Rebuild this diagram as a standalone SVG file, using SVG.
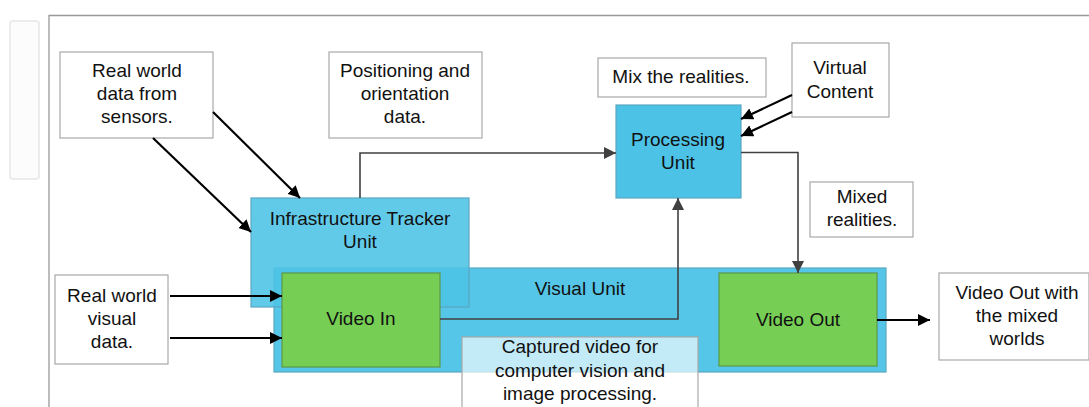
<svg xmlns="http://www.w3.org/2000/svg" width="1089" height="407" viewBox="0 0 1089 407">
<defs>
<style>
text{font-family:"Liberation Sans",Arial,sans-serif;font-size:19px;fill:#111;text-anchor:middle}
.note{fill:#fff;stroke:#a8a8a8;stroke-width:1.2}
.blue{fill:#4cc3e6;fill-opacity:0.95;stroke:#5aa7c2;stroke-width:1.2}
.green{fill:#77ce55;stroke:#5c9a47;stroke-width:1.2}
.blk{fill:none;stroke:#000;stroke-width:2.2}
.gry{fill:none;stroke:#404040;stroke-width:1.6}
</style>
<marker id="ab" viewBox="0 0 10 10" refX="10" refY="5" markerWidth="12" markerHeight="12" markerUnits="userSpaceOnUse" orient="auto"><path d="M0,0 L10,5 L0,10 z" fill="#000"/></marker>
<marker id="ag" viewBox="0 0 10 10" refX="10" refY="5" markerWidth="12" markerHeight="12" markerUnits="userSpaceOnUse" orient="auto"><path d="M0,0 L10,5 L0,10 z" fill="#404040"/></marker>
</defs>
<rect x="0" y="0" width="1089" height="407" fill="#fff"/>
<rect x="10" y="21" width="29" height="158" rx="3" fill="#fcfcfc" stroke="#ececec" stroke-width="2"/>
<path d="M49,407 V15.5 H1089" fill="none" stroke="#999" stroke-width="1.3"/>

<g id="visual-unit"><rect class="blue" x="274" y="268" width="612" height="104"/><text x="580" y="295">Visual Unit</text></g>
<g id="infrastructure-tracker"><rect class="blue" x="251" y="198" width="218" height="109" style="fill-opacity:0.88"/><text x="360" y="225">Infrastructure Tracker</text><text x="360" y="248">Unit</text></g>
<g id="video-in"><rect class="green" x="282" y="273" width="158" height="94"/><text x="361" y="325">Video In</text></g>
<g id="video-out"><rect class="green" x="719" y="273" width="158" height="93"/><text x="798" y="326">Video Out</text></g>
<g id="processing-unit"><rect class="blue" x="616" y="105" width="125" height="93" style="fill-opacity:1"/><text x="678" y="146">Processing</text><text x="678" y="169">Unit</text></g>

<g id="sensors"><rect class="note" x="60" y="52" width="153" height="86"/><text x="137" y="77">Real world</text><text x="137" y="100">data from</text><text x="137" y="123">sensors.</text></g>
<g id="positioning"><rect class="note" x="329" y="52" width="153" height="86"/><text x="405" y="77">Positioning and</text><text x="405" y="100">orientation</text><text x="405" y="123">data.</text></g>
<g id="mix-note"><rect class="note" x="598" y="58" width="168" height="39"/><text x="681" y="83">Mix the realities.</text></g>
<g id="virtual-content"><rect class="note" x="792" y="43" width="97" height="74"/><text x="840" y="74">Virtual</text><text x="840" y="98">Content</text></g>
<g id="mixed-note"><rect class="note" x="810" y="182" width="103" height="55"/><text x="862" y="203">Mixed</text><text x="862" y="226">realities.</text></g>
<g id="visual-data"><rect class="note" x="55" y="275" width="113" height="89"/><text x="112" y="302">Real world</text><text x="112" y="325">visual</text><text x="112" y="348">data.</text></g>
<g id="captured-note"><rect class="note" x="462" y="337" width="236" height="75" style="fill-opacity:0.65"/><text x="580" y="353">Captured video for</text><text x="580" y="377">computer vision and</text><text x="580" y="400">image processing.</text></g>
<g id="video-out-note"><rect class="note" x="939" y="273" width="150" height="87"/><text x="1017" y="299">Video Out with</text><text x="1017" y="322">the mixed</text><text x="1017" y="345">worlds</text></g>

<g id="connectors">
<path class="blk" d="M213,112 L300,198" marker-end="url(#ab)"/>
<path class="blk" d="M153,138 L251,232" marker-end="url(#ab)"/>
<path class="blk" d="M170,296 H282" marker-end="url(#ab)"/>
<path class="blk" d="M170,338 H282" marker-end="url(#ab)"/>
<path class="gry" d="M360,198 V153 H616" marker-end="url(#ag)"/>
<path class="blk" d="M792,95 L741,119" marker-end="url(#ab)"/>
<path class="blk" d="M792,112 L741,136" marker-end="url(#ab)"/>
<path class="gry" d="M741,152.5 H798 V273" marker-end="url(#ag)"/>
<path class="gry" d="M440,319 H678 V198" marker-end="url(#ag)"/>
<path class="blk" d="M877,320 H930" marker-end="url(#ab)"/>
</g>
</svg>
